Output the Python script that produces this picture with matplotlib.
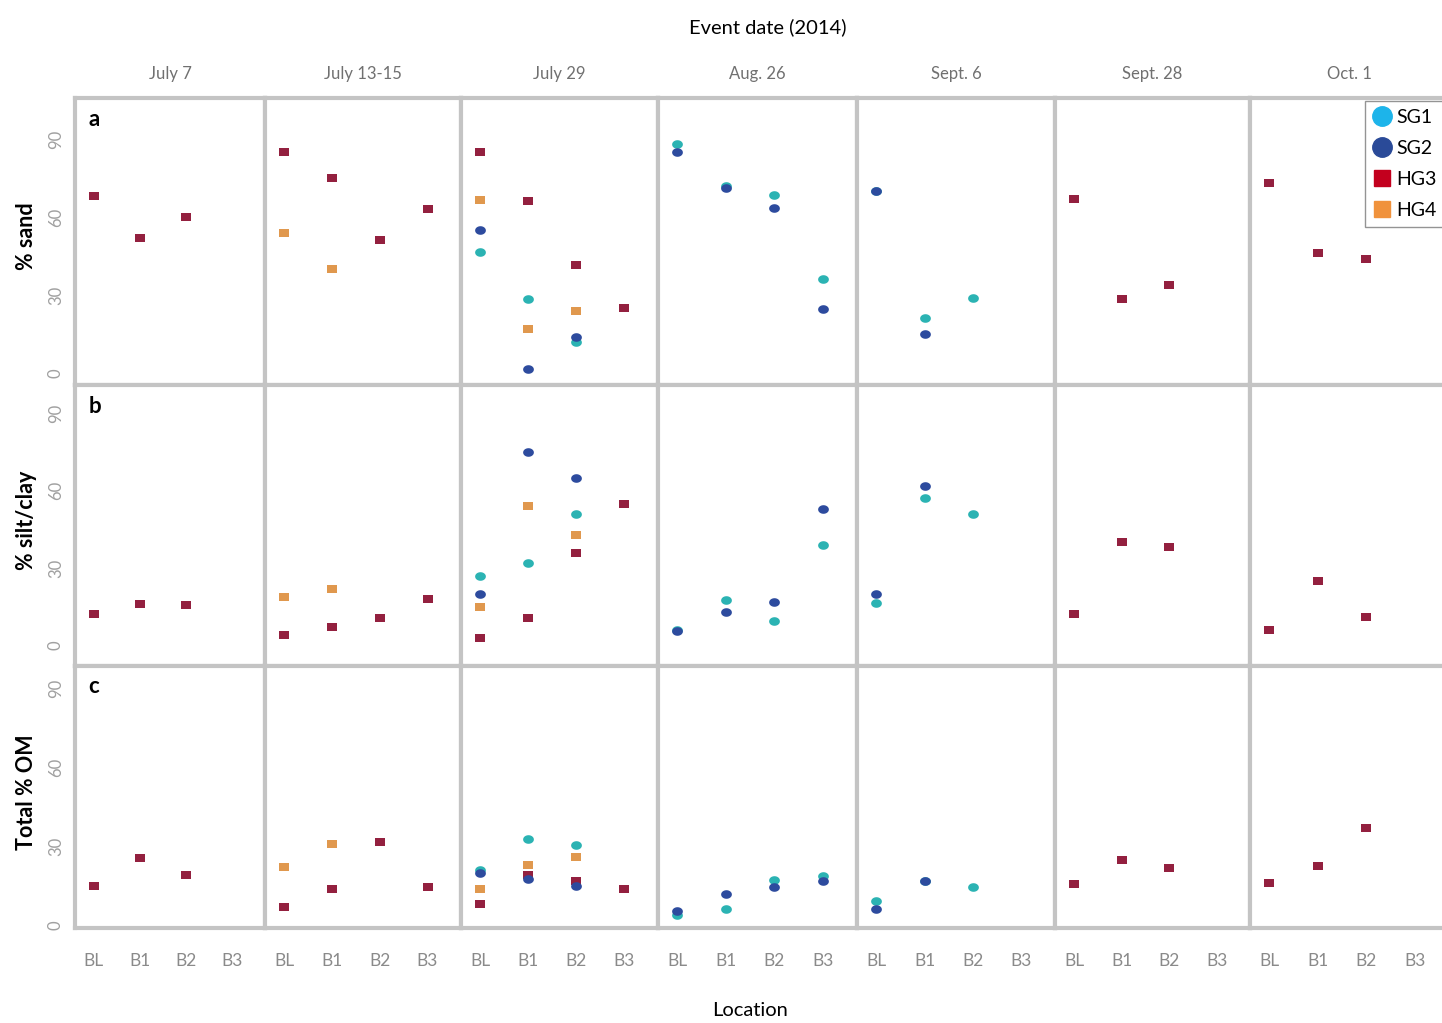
"""Sediment composition by event date and location (sand, silt/clay, OM)."""

import numpy as np
import matplotlib

matplotlib.use("Agg")
import matplotlib.pyplot as plt
from matplotlib.lines import Line2D

N = np.nan

dates = ["July 7", "July 13-15", "July 29", "Aug. 26", "Sept. 6", "Sept. 28", "Oct. 1"]
locations = ["BL", "B1", "B2", "B3"]
groups = ["SG1", "SG2", "HG3", "HG4"]
panel_letters = ["a", "b", "c"]
row_labels = ["% sand", "% silt/clay", "Total % OM"]

# one row per event date, one column per location (BL, B1, B2, B3)
sand_sg1 = [[N, N, N, N], [N, N, N, N], [46.5, 28.5, 12, N], [88, 72, 68.5, 36],
            [70, 21, 29, N], [N, N, N, N], [N, N, N, N]]
sand_sg2 = [[N, N, N, N], [N, N, N, N], [55, 1.5, 14, N], [85, 71, 63.5, 24.5],
            [70, 15, N, N], [N, N, N, N], [N, N, N, N]]
sand_hg3 = [[68, 52, 60, N], [85, 75, 51, 63], [85, 66, 41.5, 25], [N, N, N, N],
            [N, N, N, N], [67, 28.5, 34, N], [73, 46, 44, N]]
sand_hg4 = [[N, N, N, N], [54, 40, N, N], [66.5, 17, 24, N], [N, N, N, N],
            [N, N, N, N], [N, N, N, N], [N, N, N, N]]

silt_sg1 = [[N, N, N, N], [N, N, N, N], [27, 32, 51, N], [6, 17.5, 9.5, 39],
            [16.5, 57, 51, N], [N, N, N, N], [N, N, N, N]]
silt_sg2 = [[N, N, N, N], [N, N, N, N], [20, 75, 65, N], [5.5, 13, 17, 53],
            [20, 62, N, N], [N, N, N, N], [N, N, N, N]]
silt_hg3 = [[12, 16, 15.5, N], [4, 7, 10.5, 18], [3, 10.5, 36, 55], [N, N, N, N],
            [N, N, N, N], [12, 40, 38, N], [6, 25, 11, N]]
silt_hg4 = [[N, N, N, N], [18.7, 22, N, N], [15, 54, 43, N], [N, N, N, N],
            [N, N, N, N], [N, N, N, N], [N, N, N, N]]

om_sg1 = [[N, N, N, N], [N, N, N, N], [21, 32.7, 30.4, N], [4, 6, 17, 18.6],
          [9, 16.7, 14.4, N], [N, N, N, N], [N, N, N, N]]
om_sg2 = [[N, N, N, N], [N, N, N, N], [19.7, 17.5, 14.8, N], [5.3, 11.8, 14.5, 16.7],
          [6, 16.7, N, N], [N, N, N, N], [N, N, N, N]]
om_hg3 = [[14.8, 25.5, 19, N], [7, 13.7, 31.5, 14.4], [8, 19, 16.7, 13.7], [N, N, N, N],
          [N, N, N, N], [15.6, 24.7, 21.7, N], [16, 22.4, 36.9, N]]
om_hg4 = [[N, N, N, N], [22, 31, N, N], [13.7, 23, 26, N], [N, N, N, N],
          [N, N, N, N], [N, N, N, N], [N, N, N, N]]

rows = [
    {"SG1": sand_sg1, "SG2": sand_sg2, "HG3": sand_hg3, "HG4": sand_hg4},
    {"SG1": silt_sg1, "SG2": silt_sg2, "HG3": silt_hg3, "HG4": silt_hg4},
    {"SG1": om_sg1, "SG2": om_sg2, "HG3": om_hg3, "HG4": om_hg4},
]

# styling
point_colors = {"SG1": "#2bb3b3", "SG2": "#2d4b9e", "HG3": "#93203f", "HG4": "#e0984e"}
legend_colors = {"SG1": "#1db4ea", "SG2": "#2a4a98", "HG3": "#c3001e", "HG4": "#f0923c"}
rect = [(-1, -0.75), (1, -0.75), (1, 0.75), (-1, 0.75), (-1, -0.75)]
ellipse = [(np.cos(t), 0.8 * np.sin(t)) for t in np.linspace(0, 2 * np.pi, 40)]
markers = {"SG1": ellipse, "SG2": ellipse, "HG3": rect, "HG4": rect}
draw_order = ["HG3", "HG4", "SG1", "SG2"]

W, H = 1442, 1023
col_edges = [75, 265, 461, 658, 857, 1055, 1250, 1449]
row_edges = [98, 385, 666, 928]
row_ylims = [(-4.6, 105.8), (-8.0, 101.0), (-1.1, 98.5)]
grey_edge = "#c4c4c4"

plt.rcParams["font.family"] = ["Lato", "DejaVu Sans"]
fig = plt.figure(figsize=(W / 100, H / 100), dpi=100)


def fx(px):
    return px / W


def fy(py):
    return 1 - py / H


for r in range(3):
    for c in range(len(dates)):
        left, right = col_edges[c], col_edges[c + 1]
        top, bottom = row_edges[r], row_edges[r + 1]
        ax = fig.add_axes([fx(left), fy(bottom), fx(right) - fx(left), fy(top) - fy(bottom)])
        x = np.arange(len(locations))
        for g in draw_order:
            y = np.array(rows[r][g][c], dtype=float)
            ax.scatter(x, y, s=60, marker=markers[g], color=point_colors[g],
                       linewidths=0, zorder=3)
        ax.set_xlim(-0.4, 3.7)
        ax.set_ylim(*row_ylims[r])
        ax.set_yticks([0, 30, 60, 90])
        ax.set_xticks(x)
        ax.tick_params(length=0, colors="#9a9a9a")
        if c == 0:
            ax.set_yticklabels(["0", "30", "60", "90"], rotation=90, va="center",
                               fontsize=12, color="#a0a0a0")
            ax.tick_params(axis="y", pad=8)
            ax.text(0.07, 0.96, panel_letters[r], transform=ax.transAxes,
                    fontsize=16, fontweight="bold", va="top", ha="left")
        else:
            ax.set_yticklabels([])
        if r == 2:
            ax.set_xticklabels(locations, fontsize=12.5, color="#8a8a8a")
            ax.tick_params(axis="x", pad=18)
        else:
            ax.set_xticklabels([])
        for sp in ax.spines.values():
            sp.set_color(grey_edge)
            sp.set_linewidth(3)
        if r == 0:
            ax.set_title(dates[c], fontsize=12, color="#707070", pad=14)

for r in range(3):
    ymid = (row_edges[r] + row_edges[r + 1]) / 2
    fig.text(fx(27), fy(ymid - 5), row_labels[r], rotation=90, ha="center",
             va="center", fontsize=15.5, fontweight="bold")

fig.text(fx(768), fy(27), "Event date (2014)", ha="center", va="center", fontsize=14.5)
fig.text(fx(750), fy(1010), "Location", ha="center", va="center", fontsize=14.5)

handles = [
    Line2D([], [], linestyle="none", marker="o", markersize=14,
           color=legend_colors[g], label=g) if g.startswith("SG") else
    Line2D([], [], linestyle="none", marker="s", markersize=12,
           color=legend_colors[g], label=g)
    for g in groups
]
fig.legend(handles=handles, loc="upper left", bbox_to_anchor=(fx(1365), fy(101)),
           fontsize=14, frameon=True, fancybox=False, edgecolor="#7a7a7a",
           handlelength=0.9, handletextpad=0.3, labelspacing=0.72,
           borderpad=0.4, borderaxespad=0)

fig.savefig("out.png", dpi=100)
